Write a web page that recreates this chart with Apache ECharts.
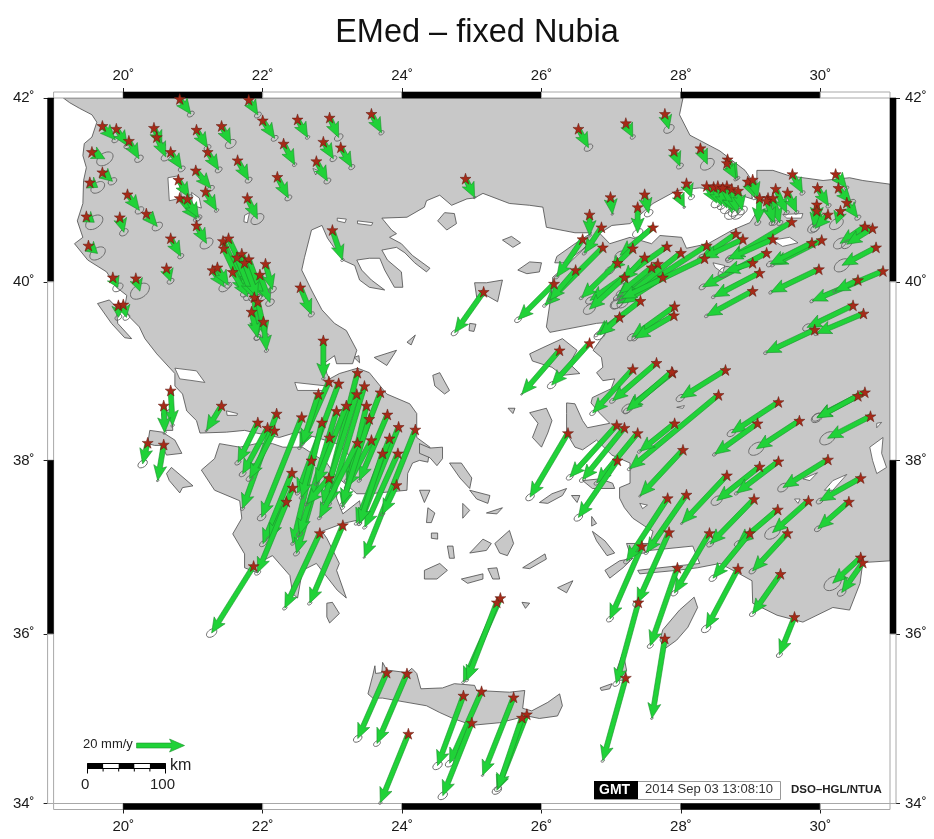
<!DOCTYPE html>
<html><head><meta charset="utf-8">
<style>html,body{margin:0;padding:0;background:#fff}#c{width:934px;height:839px}</style>
<script src="https://cdn.jsdelivr.net/npm/echarts@6/dist/echarts.min.js"></script>
</head><body><div id="c"></div>
<script>
// ---------- axes ----------
const lonTicks = [20,22,24,26,28,30];
const latTicks = [34,36,38,40,42];
const lonBands = [19,20,22,24,26,28,30,31];
const latBands = [42,40,38,36,34];

// ---------- coastlines: [lon, lat] ----------
const thraceCoast = [[19.14,42],[19.23,41.95],[19.37,41.89],[19.55,41.82],[19.62,41.74],[19.55,41.58],[19.44,41.51],[19.42,41.38],[19.47,41.25],[19.43,41.11],[19.42,40.86],[19.34,40.67],[19.42,40.49],[19.30,40.42],[19.49,40.24],[19.76,40.11],[19.90,39.94],[20.05,39.85],[20.02,39.72],[20.09,39.61],[20.23,39.50],[20.31,39.37],[20.48,39.20],[20.74,38.98],[20.74,38.84],[20.85,38.75],[20.91,38.56],[21.05,38.45],[21.10,38.31],[21.48,38.32],[21.74,38.34],[21.91,38.31],[22.24,38.26],[22.49,38.32],[22.77,38.26],[23.06,38.19],[23.20,38.09],[23.29,38.00],[23.10,37.79],[23.25,37.69],[23.35,37.62],[23.53,37.62],[24.07,37.66],[24.08,37.85],[24.15,37.97],[24.25,38.00],[24.37,37.98],[24.40,38.15],[24.21,38.26],[24.21,38.53],[24.11,38.64],[23.78,38.75],[23.53,38.99],[23.36,39.04],[23.10,38.98],[22.96,38.92],[22.92,38.98],[22.89,39.10],[23.03,39.18],[23.06,39.09],[23.29,39.09],[23.35,39.24],[23.20,39.46],[23.03,39.54],[22.85,39.69],[22.70,39.91],[22.56,40.13],[22.60,40.27],[22.70,40.57],[22.85,40.62],[22.93,40.48],[23.15,40.24],[23.32,40.18],[23.39,40.02],[23.53,39.94],[23.75,39.91],[23.56,40.02],[23.42,40.13],[23.35,40.24],[23.53,40.26],[23.68,40.26],[23.75,40.13],[23.89,39.94],[24.01,39.94],[23.99,40.11],[23.79,40.24],[23.71,40.35],[23.92,40.38],[24.04,40.32],[24.18,40.21],[24.35,40.11],[24.40,40.15],[24.15,40.29],[23.99,40.42],[23.82,40.49],[23.92,40.53],[23.85,40.57],[23.71,40.70],[24.07,40.71],[24.32,40.82],[24.35,40.89],[24.54,40.95],[24.71,40.84],[24.93,40.91],[25.04,40.92],[25.16,40.97],[25.54,40.86],[25.83,40.84],[26.02,40.82],[26.07,40.60],[26.48,40.54],[26.72,40.54],[26.48,40.42],[26.22,40.28],[26.19,40.21],[26.33,40.21],[26.58,40.35],[26.79,40.51],[27.01,40.62],[27.27,40.64],[27.60,40.86],[27.94,41.00],[28.27,41.03],[28.56,41.00],[28.77,40.97],[29.02,40.91],[29.02,41.11],[28.92,41.22],[28.56,41.43],[28.13,41.60],[27.98,41.82],[28.03,42]];
const anatoliaCoast = [[31,41.07],[30.61,41.11],[30.42,41.14],[30.04,41.11],[29.56,41.16],[29.32,41.22],[29.09,41.22],[29.09,40.95],[29.10,40.78],[28.99,40.65],[28.74,40.57],[28.39,40.42],[28.08,40.37],[28.01,40.49],[27.70,40.51],[27.58,40.42],[27.27,40.49],[26.98,40.42],[26.84,40.53],[26.59,40.35],[26.40,40.21],[26.16,40.05],[26.16,39.99],[26.12,39.76],[26.07,39.50],[26.12,39.44],[26.79,39.54],[26.94,39.55],[26.94,39.46],[26.74,39.24],[26.86,39.16],[26.88,39.05],[26.79,38.99],[26.88,38.90],[27.05,38.92],[27.00,38.81],[26.73,38.71],[26.71,38.65],[26.84,38.53],[26.98,38.42],[26.66,38.37],[26.59,38.45],[26.48,38.64],[26.36,38.65],[26.36,38.53],[26.36,38.31],[26.48,38.15],[26.59,38.12],[26.79,38.23],[27.01,38.06],[27.27,37.97],[27.27,37.74],[27.12,37.69],[27.12,37.57],[27.19,37.46],[27.31,37.34],[27.48,37.25],[27.60,37.19],[27.55,37.05],[27.22,37.05],[27.27,36.93],[27.48,36.94],[27.55,36.97],[28.17,37.02],[28.24,36.88],[28.27,36.82],[27.70,36.77],[27.38,36.74],[27.41,36.70],[27.94,36.74],[28.24,36.77],[28.56,36.82],[28.84,36.70],[29.02,36.62],[29.03,36.36],[29.38,36.22],[29.75,36.14],[30.18,36.31],[30.42,36.28],[30.57,36.59],[30.61,36.83],[31,36.85]];
const peloponneseCoast = [[23.07,37.80],[22.92,37.97],[22.57,38.15],[22.29,38.15],[22.14,38.19],[21.91,38.19],[21.67,38.15],[21.38,38.19],[21.31,38.02],[21.12,37.89],[21.31,37.66],[21.67,37.54],[21.70,37.34],[21.57,37.16],[21.74,36.93],[21.74,36.77],[21.93,36.71],[22.00,36.85],[22.14,36.91],[22.39,36.68],[22.43,36.47],[22.50,36.42],[22.57,36.74],[22.77,36.82],[23.07,36.51],[23.20,36.42],[23.06,36.74],[23.10,36.82],[22.92,37.11],[22.85,37.19],[23.15,37.28],[23.43,37.33],[23.39,37.54],[23.15,37.39],[23.06,37.57]];
const creteCoast = [[23.51,35.30],[23.58,35.52],[23.61,35.63],[23.62,35.54],[23.71,35.55],[23.72,35.67],[23.78,35.58],[24.07,35.55],[24.14,35.60],[24.21,35.54],[24.27,35.36],[24.58,35.37],[24.75,35.42],[25.04,35.40],[25.07,35.34],[25.54,35.32],[25.76,35.34],[25.73,35.13],[25.86,35.10],[26.09,35.20],[26.26,35.30],[26.30,35.16],[26.23,35.04],[25.97,35.01],[25.79,35.04],[25.40,34.96],[25.01,34.93],[24.73,35.01],[24.54,35.08],[24.35,35.16],[24.07,35.20],[23.72,35.25],[23.58,35.25]];
const ionianIslands = [
 [[19.63,39.76],[19.80,39.80],[19.90,39.72],[19.92,39.54],[20.12,39.37],[20.02,39.38],[19.83,39.54]],
 [[20.55,38.53],[20.69,38.59],[20.71,38.34],[20.59,38.34]],
 [[20.38,38.34],[20.56,38.32],[20.74,38.23],[20.84,38.08],[20.62,38.06],[20.55,38.17],[20.45,38.17],[20.35,38.19]],
 [[20.62,37.85],[20.69,37.92],[21.00,37.71],[20.85,37.69],[20.81,37.63],[20.66,37.77]],
 [[22.92,36.36],[23.00,36.37],[23.10,36.24],[22.96,36.13],[22.92,36.20]]
];
const northAegeanIslands = [
 [[24.51,40.67],[24.61,40.76],[24.75,40.75],[24.78,40.64],[24.64,40.57]],
 [[25.44,40.46],[25.57,40.50],[25.70,40.43],[25.59,40.38]],
 [[25.66,40.13],[25.83,40.22],[26.00,40.21],[25.97,40.11],[25.79,40.09]],
 [[25.04,39.99],[25.21,39.99],[25.44,40.02],[25.37,39.78],[25.21,39.85],[25.07,39.83]],
 [[24.97,39.54],[25.06,39.53],[25.03,39.45],[24.96,39.46]],
 [[24.44,38.96],[24.54,38.99],[24.68,38.79],[24.61,38.75],[24.47,38.84]],
 [[23.31,39.16],[23.38,39.18],[23.39,39.10]],
 [[23.60,39.16],[23.92,39.24],[23.78,39.07]],
 [[24.07,39.33],[24.19,39.41],[24.13,39.30]],
 [[25.83,39.20],[26.02,39.27],[26.30,39.37],[26.51,39.24],[26.40,39.09],[26.55,38.98],[26.30,38.96],[26.15,39.05],[25.87,39.12]],
 [[25.83,38.54],[26.07,38.59],[26.15,38.45],[26.09,38.31],[26.00,38.15],[25.87,38.26],[25.95,38.42]],
 [[25.52,38.59],[25.62,38.59],[25.59,38.53]]
];
const southAegeanIslands = [
 [[26.59,37.77],[26.84,37.79],[27.02,37.74],[27.05,37.68],[26.73,37.68]],
 [[25.97,37.52],[26.15,37.62],[26.36,37.68],[26.30,37.60],[26.09,37.51]],
 [[26.43,37.60],[26.55,37.60],[26.51,37.52]],
 [[24.25,38.19],[24.40,38.14],[24.58,38.15],[24.58,38.02],[24.50,37.94],[24.40,38.03],[24.25,38.08]],
 [[24.68,37.97],[24.85,37.97],[25.00,37.80],[24.97,37.68],[24.83,37.80]],
 [[24.97,37.66],[25.26,37.60],[25.23,37.51],[25.07,37.56]],
 [[24.25,37.66],[24.40,37.66],[24.32,37.52]],
 [[24.37,37.46],[24.47,37.40],[24.42,37.29],[24.35,37.29]],
 [[24.87,37.51],[24.97,37.43],[24.87,37.34]],
 [[25.21,37.40],[25.44,37.46],[25.36,37.39]],
 [[24.42,37.17],[24.51,37.17],[24.51,37.10],[24.42,37.11]],
 [[24.65,37.02],[24.73,37.02],[24.75,36.88],[24.68,36.88]],
 [[24.97,36.94],[25.16,37.10],[25.28,37.05],[25.21,36.97]],
 [[25.33,37.05],[25.54,37.20],[25.60,37.05],[25.51,36.91],[25.40,36.94]],
 [[25.73,36.77],[26.05,36.93],[26.07,36.87],[25.83,36.76]],
 [[25.23,36.76],[25.36,36.77],[25.40,36.64],[25.30,36.64]],
 [[24.85,36.64],[25.16,36.70],[25.16,36.64],[24.94,36.59]],
 [[24.32,36.74],[24.54,36.82],[24.65,36.74],[24.50,36.64],[24.32,36.64]],
 [[26.73,37.19],[26.91,37.08],[27.05,36.94],[26.94,36.91],[26.79,37.08]],
 [[26.72,37.36],[26.79,37.28],[26.72,37.25]],
 [[26.91,36.74],[27.12,36.85],[27.31,36.88],[27.17,36.77],[26.98,36.65]],
 [[26.23,36.54],[26.45,36.62],[26.36,36.48]],
 [[25.72,36.37],[25.83,36.36],[25.77,36.30]],
 [[27.74,36.05],[27.98,36.28],[28.19,36.43],[28.24,36.31],[28.10,36.08],[27.94,35.93],[27.77,35.83],[27.70,35.93]],
 [[27.08,35.58],[27.17,35.79],[27.22,35.58],[27.17,35.46],[27.08,35.46]],
 [[26.84,35.37],[27.01,35.42],[26.98,35.36],[26.86,35.34]]
];
const inlandWaters = [
 [[20.64,41.14],[20.78,41.16],[20.84,40.92],[20.66,40.89]],
 [[20.98,40.98],[21.09,40.92],[21.12,40.81],[20.99,40.84]],
 [[21.74,40.73],[21.81,40.76],[21.78,40.65],[21.73,40.66]],
 [[22.72,41.24],[22.79,41.22],[22.76,41.17]],
 [[20.74,39.04],[21.05,39.01],[21.17,38.88],[21.00,38.90],[20.81,38.92]],
 [[21.48,38.56],[21.64,38.53],[21.63,38.51],[21.49,38.51]],
 [[22.46,38.88],[22.92,38.84],[22.92,38.79],[22.50,38.79]],
 [[23.07,40.70],[23.20,40.69],[23.18,40.65],[23.07,40.67]],
 [[23.36,40.67],[23.58,40.65],[23.56,40.62],[23.36,40.64]],
 [[28.46,40.21],[28.63,40.18],[28.60,40.10],[28.49,40.16]],
 [[29.32,40.46],[29.56,40.49],[29.68,40.43],[29.46,40.39]],
 [[29.46,40.74],[29.75,40.75],[29.73,40.70],[29.52,40.70]],
 [[30.71,38.15],[30.90,38.26],[30.88,38.08],[30.95,37.92],[30.81,37.85],[30.75,38.00]],
 [[30.06,37.66],[30.18,37.77],[30.38,37.84],[30.18,37.66]],
 [[29.75,37.79],[29.96,37.86],[29.85,37.77]],
 [[29.63,37.56],[29.71,37.56],[29.68,37.51]],
 [[27.41,37.51],[27.52,37.49],[27.45,37.45]],
 [[27.94,38.60],[28.05,38.62],[28.03,38.59]],
 [[30.81,38.42],[30.88,38.43],[30.81,38.37]]
];

// ---------- GPS stations: [lon, lat, east mm/y, north mm/y, error mm/y] ----------
const balkanStations = [[20.81,41.99,4.6,-6.3,1.6],[21.80,41.98,3.8,-6.3,1.6],[22.00,41.76,5.0,-7.5,1.6],[22.50,41.77,4.2,-7.5,1],[22.96,41.79,3.8,-8.3,2],[19.70,41.70,5.4,-5.8,1.6],[19.90,41.67,4.6,-7.1,1.6],[20.08,41.54,4.2,-7.5,2],[20.44,41.68,3.3,-7.5,1.6],[20.48,41.58,3.8,-8.3,2.2],[20.68,41.42,4.6,-7.1,1.6],[21.05,41.66,4.6,-7.5,1.6],[21.21,41.42,4.6,-7.5,1.6],[21.41,41.70,3.8,-7.5,2.5],[21.64,41.33,4.6,-8.3,1.6],[22.30,41.51,4.6,-8.8,1],[22.87,41.53,4.2,-7.1,1.6],[22.77,41.32,4.6,-8.3,1.6],[22.21,41.15,4.6,-8.8,1.6],[21.78,40.92,4.2,-8.8,3],[19.55,41.42,5.4,-2.9,3.8],[19.70,41.20,4.2,-3.8,2],[19.52,41.09,3.3,-2.1,3.2],[19.47,40.72,3.3,-2.5,4],[19.50,40.40,3.8,-3.3,3.6],[20.06,40.96,5.0,-6.7,2],[19.95,40.71,1.7,-6.3,2],[20.33,40.75,4.6,-5.4,2.4],[20.68,40.48,4.2,-7.5,1.4],[20.62,40.15,1.7,-5.4,1.6],[20.79,41.12,4.6,-7.5,1.6],[20.81,40.92,7.1,-8.8,1.6],[20.92,40.91,4.6,-7.9,1.6],[21.04,41.22,6.3,-7.5,1.6],[21.18,40.99,4.6,-7.9,1],[21.05,40.62,4.2,-7.5,3],[19.85,40.05,2.1,-4.2,2.4],[20.18,40.04,1.7,-5.4,4.4],[19.93,39.74,0,-5,1.6],[20.00,39.75,1.3,-5.4,1.6]];
const pindusStations = [[21.28,40.13,5.0,-7.1,2.6],[21.35,40.16,4.6,-7.5,1.6],[22.54,39.94,4.6,-11.3,1.4],[21.43,40.45,9.2,-19.2,2],[21.51,40.48,9.6,-20.4,2],[21.44,40.37,8.8,-18.8,2],[21.70,40.31,6.7,-15.4,2.4],[21.80,40.25,5.8,-15.8,2],[21.57,40.11,6.3,-10.4,2],[21.96,40.08,4.2,-11.7,2],[22.04,40.20,2.9,-10.8,1.8],[21.88,39.83,1.3,-16.7,1.6],[21.93,39.78,3.3,-14.6,1.6],[21.84,39.67,2.5,-10.8,1.6],[22.01,39.56,1.3,-12.1,1],[21.63,40.27,6.7,-16.7,2],[21.74,40.21,5.4,-14.6,2],[23.56,41.83,4.2,-7.9,1.2],[23.12,41.47,4.6,-8.3,1.4],[23.00,40.57,4.2,-12.5,0.8],[24.91,41.13,3.8,-7.9,0.6]];
const hellenicStations = [[20.68,38.79,0.8,-14.6,0.8],[20.58,38.62,0.4,-11.3,0.8],[20.35,38.20,-2.1,-8.8,2.2],[20.58,38.18,-2.5,-15,0.6],[21.41,38.62,-6.3,-10.4,0.6],[21.93,38.43,-8.3,-16.7,1.4],[22.07,38.37,-10.4,-19.2,1.6],[22.20,38.53,-14.2,-39.6,1],[22.17,38.34,-10.4,-20,1.6],[22.56,38.49,-16.7,-41.7,2],[22.87,39.35,0,-15.8,0.8],[22.95,38.89,-12.1,-27.5,1],[22.80,38.75,-6.7,-20.8,1],[23.09,38.87,-17.1,-45.8,1],[23.36,38.99,-12.9,-50.4,1],[23.46,38.84,-14.6,-49.2,1],[23.69,38.77,-14.2,-36.7,1],[23.49,38.62,-10,-42.5,1],[23.79,38.52,-11.7,-27.5,1],[23.95,38.38,-16.3,-40.4,1],[24.19,38.35,-21.3,-53.3,0.5],[23.94,38.08,-13.8,-30.8,1],[23.82,38.25,-13.8,-35.4,1],[23.72,38.08,-9.6,-29.2,1],[23.92,37.72,-5.8,-12.1,1],[23.56,38.23,-10.4,-19.6,1],[23.53,38.47,-11.3,-35.4,1],[22.42,37.86,-12.1,-29.6,1.6],[22.34,37.53,-7.1,-15.4,1.4],[22.85,38.43,-12.1,-50.4,1],[22.96,38.26,-13.8,-48.3,1.4],[23.06,38.56,-15.4,-51.3,1.4],[23.20,38.62,-12.5,-32.5,1],[23.35,38.75,-14.2,-45.8,1],[23.36,38.20,-15.8,-31.3,1],[22.95,37.80,-9.2,-10.8,1],[22.70,38.00,-4.2,-15.4,1],[22.82,37.17,-14.6,-31.3,1],[23.15,37.26,-13.8,-32.5,1],[21.87,36.79,-17.5,-27.9,2.4],[22.43,37.69,-14.6,-35.4,1.4]];
const creteStations = [[25.41,36.42,-15.4,-35,0.8],[25.36,36.37,-12.5,-32.5,0.8],[23.78,35.55,-12.1,-27.5,2],[24.07,35.54,-12.5,-29.2,1.6],[24.09,34.83,-11.7,-28.8,0.8],[24.88,35.28,-10.8,-29.2,2.2],[25.14,35.33,-13.3,-30,2],[25.00,34.96,-12.1,-30.4,2.2],[25.60,35.26,-12.9,-32.5,0.6],[25.79,35.06,-12.5,-31.7,2.2],[25.72,35.02,-10,-29.6,1.6],[27.21,35.49,-9.6,-34.6,0.8],[27.39,36.37,-9.2,-33.8,1.6],[27.77,35.95,-5.4,-33.3,0.6],[27.95,36.77,-11.3,-32.5,1.4],[27.44,37.02,-13.3,-30.4,1.6]];
const aegeanStations = [[26.26,39.24,-15.8,-18.3,0.5],[26.69,39.32,-15.8,-17.5,2],[27.31,39.03,-16.7,-18.3,1.4],[27.65,39.10,-18.3,-15.8,1.4],[26.38,38.31,-15.8,-26.7,2],[27.08,38.40,-19.6,-21.7,1.6],[27.19,38.37,-17.5,-21.7,1.4],[27.38,38.31,-17.1,-20.8,1.2],[27.09,38.00,-16.3,-23.8,2]];
const marmaraStations = [[26.53,41.67,4.2,-7.9,2],[26.99,40.93,0.8,-7.1,0.6],[26.69,40.74,0,-8.8,0.8],[26.86,40.60,-7.1,-10.8,1],[26.59,40.47,-10.8,-15.8,1],[26.88,40.38,-24.2,-24.2,1],[26.49,40.13,-10.8,-12.5,1],[26.18,39.98,-15,-15,1.6],[25.17,39.89,-12.1,-17.1,1.6],[27.21,41.73,2.9,-5.8,1.2],[27.77,41.83,1.7,-6.3,2.4],[27.90,41.43,2.5,-6.3,1.6],[28.28,41.46,2.9,-6.7,3.2],[28.67,41.34,4.2,-7.9,1],[28.66,41.30,3.8,-6.7,1],[28.08,41.08,2.1,-5.8,1.4],[27.95,40.97,2.9,-5.8,0.6],[27.48,40.96,1.7,-7.9,2],[27.38,40.82,0,-10.8,2.4],[28.37,41.05,4.2,-7.1,2.6],[28.47,41.04,3.3,-7.9,2],[28.53,41.05,3.8,-9.2,3],[28.66,41.05,2.1,-11.3,3.4],[28.60,41.03,5,-9.6,3],[28.73,41.02,2.5,-10.4,3],[28.82,41.00,1.7,-8.3,2.4],[28.96,41.10,2.9,-6.7,1.2],[29.03,41.12,2.1,-7.5,1.2],[29.13,40.92,-0.8,-10.4,1.4],[29.25,40.92,1.7,-10.4,1.4],[29.32,40.92,2.9,-10.4,1.4],[29.23,40.89,3.3,-9.2,1.4],[29.36,41.02,4.6,-10,1.2],[29.53,40.98,3.8,-8.3,1],[29.60,41.18,4.2,-7.9,1.2],[29.96,41.03,4.6,-7.5,1.2],[30.22,41.18,4.6,-5.8,1],[30.26,41.03,5.4,-6.3,2],[30.38,40.87,4.6,-6.3,1.4],[30.29,40.78,-1.7,-5.4,3.2],[29.95,40.85,0,-7.5,2],[29.95,40.78,-1.3,-7.1,2.8],[30.11,40.74,-5.4,-5.8,2],[29.59,40.66,-25.8,-15.4,2],[30.64,40.61,-10.4,-7.1,3],[30.75,40.59,-10.8,-6.7,2.4],[30.80,40.38,-14.2,-7.5,3.6],[30.02,40.46,-20.4,-10.4,1],[29.88,40.43,-17.5,-8.8,1.6],[30.90,40.12,-29.6,-12.5,1],[30.54,40.02,-9.6,-4.6,1],[29.98,40.14,-20,-9.6,1],[29.23,40.32,-26.7,-14.2,1.6],[29.03,40.21,-11.7,-3.8,3],[29.13,40.10,-19.2,-10,1],[29.03,39.90,-19.2,-10.4,1],[28.79,40.53,-14.2,-10,2],[28.89,40.47,-16.7,-7.9,1],[28.37,40.40,-37.5,-24.2,3],[29.32,40.47,-18.8,-8.3,1],[30.47,39.74,-19.2,-9.2,2],[30.62,39.65,-19.6,-8.3,1.2],[29.92,39.47,-20.4,-9.6,1],[27.60,40.60,-13.8,-11.7,2.4],[27.80,40.39,-32.1,-22.5,2],[28.00,40.32,-26.7,-21.3,2.6],[27.48,40.27,-9.2,-9.6,2],[27.67,40.20,-17.1,-14.2,1.6],[27.58,40.16,-13.3,-10.8,1.6],[27.74,40.05,-16.7,-10.8,2.6],[27.31,40.37,-9.6,-9.2,2.2],[27.09,40.21,-15,-14.6,1],[27.19,40.05,-14.6,-13.3,2.8],[27.42,39.79,-18.3,-14.2,1],[27.12,39.61,-8.3,-7.5,2.6],[27.91,39.73,-17.9,-12.9,2],[27.90,39.63,-16.3,-9.6,1.4],[28.34,40.26,-34.6,-16.7,1.4]];
const anatoliaStations = [[27.88,38.99,-18.8,-15,2.6],[27.87,39.00,-18.8,-16.3,1.6],[28.64,39.02,-18.8,-11.7,2],[28.54,38.74,-37.1,-30.8,1],[27.91,38.42,-14.6,-11.7,1],[28.03,38.12,-17.9,-19.2,0.6],[29.40,38.66,-19.6,-12.9,2],[29.10,38.42,-17.9,-12.9,1],[29.70,38.45,-17.9,-11.7,3.6],[30.64,38.77,-20,-10.4,2.2],[30.54,38.73,-17.1,-9.2,2.6],[30.72,38.50,-17.9,-9.2,3.6],[30.11,38.01,-18.8,-11.7,2.4],[30.58,37.80,-17.1,-9.6,1.6],[30.41,37.53,-12.9,-11.3,1.6],[29.83,37.54,-15,-13.3,3.6],[29.39,37.44,-16.7,-14.2,1.6],[29.13,37.93,-17.9,-14.2,2.6],[29.40,37.99,-17.5,-13.3,1],[28.66,37.83,-18.8,-20,0.6],[29.05,37.56,-18.3,-18.8,1.6],[28.99,37.17,-15.4,-18.8,1.8],[29.53,37.17,-14.6,-15.8,1.6],[29.43,36.70,-11.7,-16.7,1.4],[28.82,36.76,-13.3,-25,2.2],[28.41,37.17,-14.6,-25,1.6],[28.08,37.61,-16.7,-24.2,1],[27.81,37.57,-17.1,-26.3,1.4],[27.83,37.18,-13.3,-29.6,2],[30.58,36.89,-11.7,-10.8,4],[30.61,36.83,-8.8,-12.5,2],[29.63,36.20,-6.3,-15.8,1.4]];
const legendArrow = [[20.19,34.69,20,0,0]];

// ---------- geometry ----------
const merc = lat => Math.log(Math.tan(Math.PI/4 + lat*Math.PI/360))*180/Math.PI;
const invMerc = v => (2*Math.atan(Math.exp(v*Math.PI/180)) - Math.PI/2)*180/Math.PI;
const PX_PER_MM = 2.4;               // paper scale of the velocity vectors (20 mm/y = 48 px)
const allStations = [...balkanStations,...pindusStations,...hellenicStations,...creteStations,...aegeanStations,...marmaraStations,...anatoliaStations];
const landPolys = [thraceCoast,anatoliaCoast,peloponneseCoast,creteCoast,...ionianIslands,...northAegeanIslands,...southAegeanIslands];

const FONT = '"Liberation Sans", Arial, sans-serif';
const polyData = list => list.map((p,i)=>[p[0][0],merc(p[0][1]),i]);
const polyRender = (list,fill,stroke) => (params,api) => ({
  type:'polygon',
  shape:{points:list[params.dataIndex].map(q=>api.coord([q[0],merc(q[1])]))},
  style:{fill,stroke,lineWidth:0.8}
});

function arrowRender(params,api){
  const s = api.coord([api.value(0),api.value(1)]);
  const ve = api.value(2), vn = api.value(3), err = api.value(4);
  const dx = ve*PX_PER_MM, dy = -vn*PX_PER_MM, L = Math.hypot(dx,dy)||1;
  const ux = dx/L, uy = dy/L, nx = -uy, ny = ux;
  const hl = Math.min(13,L*0.75), hw = 6.5, sw = 2.5;
  const t = [s[0]+dx,s[1]+dy];
  const b = [t[0]-ux*hl,t[1]-uy*hl];
  const pts = [
    [s[0]+nx*sw,s[1]+ny*sw],[b[0]+nx*sw,b[1]+ny*sw],[b[0]-ux*2+nx*hw,b[1]-uy*2+ny*hw],
    t,[b[0]-ux*2-nx*hw,b[1]-uy*2-ny*hw],[b[0]-nx*sw,b[1]-ny*sw],[s[0]-nx*sw,s[1]-ny*sw]
  ];
  const children = [];
  if(err>0) children.push({type:'ellipse',x:t[0],y:t[1],rotation:0.6,
    shape:{cx:0,cy:0,rx:err*PX_PER_MM,ry:err*PX_PER_MM*0.62},
    style:{fill:'transparent',stroke:'#6a6a6a',lineWidth:0.9}});
  children.push({type:'polygon',shape:{points:pts},style:{fill:'#20d238',stroke:'#1c8f2e',lineWidth:0.6}});
  return {type:'group',children};
}
const axisText = {fontFamily:FONT,fontSize:15,color:'#1a1a1a'};

// fancy frame from the lon/lat band lists
const frameRows = [];
lonBands.slice(0,-1).forEach((a,i)=>{frameRows.push([a,lonBands[i+1],i%2==1?1:0,0]);});
latBands.slice(0,-1).forEach((a,i)=>{frameRows.push([a,latBands[i+1],i%2==0?1:0,1]);});
[[19,42,-1,-1],[31,42,0,-1],[19,34,-1,0],[31,34,0,0]].forEach(c=>frameRows.push([c[0],c[1],0,2,c[2],c[3]]));
function frameRender(params,api){
  const a=api.value(0), b=api.value(1), black=api.value(2), kind=api.value(3), w=6;
  const st = black?{fill:'#000',stroke:'#000',lineWidth:0.6}:{fill:'#fff',stroke:'#a8a8a8',lineWidth:1};
  const top=merc(42), bot=merc(34), rects=[];
  if(kind===0){
    const p=api.coord([a,top]), q=api.coord([b,top]), r=api.coord([a,bot]);
    rects.push({x:p[0],y:p[1]-w,width:q[0]-p[0],height:w},{x:r[0],y:r[1],width:q[0]-p[0],height:w});
  }else if(kind===1){
    const p=api.coord([19,merc(a)]), q=api.coord([19,merc(b)]), r=api.coord([31,merc(a)]);
    rects.push({x:p[0]-w,y:p[1],width:w,height:q[1]-p[1]},{x:r[0],y:r[1],width:w,height:q[1]-p[1]});
  }else{
    const p=api.coord([a,merc(b)]);
    rects.push({x:p[0]+api.value(4)*w,y:p[1]+api.value(5)*w,width:w,height:w});
  }
  return {type:'group',children:rects.map(shape=>({type:'rect',shape,style:st}))};
}

const starPath = 'path://M50 0L62 36L100 36L69 59L81 95L50 73L19 95L31 59L0 36L38 36Z';
const latValues = latTicks.map(merc);
const fmtLat = v => Math.round(invMerc(v))+'˚';
const fmtLon = v => v+'˚';
const xCommon = {type:'value',min:19,max:31,splitLine:{show:false},axisLine:{show:false},
  axisTick:{customValues:lonTicks,length:10,lineStyle:{color:'#222',width:1}}};
const yCommon = {type:'value',min:merc(34),max:merc(42),splitLine:{show:false},axisLine:{show:false},
  axisTick:{customValues:latValues,length:10,lineStyle:{color:'#222',width:1}}};

const chart = echarts.init(document.getElementById('c'),null,{renderer:'canvas'});
chart.setOption({
  animation:false,backgroundColor:'#fff',
  title:{text:'EMed – fixed Nubia',left:472,top:12,textAlign:'center',
    textStyle:{fontFamily:FONT,fontSize:32.5,fontWeight:'normal',color:'#111'}},
  grid:{left:53.6,right:44,top:98,bottom:35.5,containLabel:false},
  xAxis:[
    {...xCommon,position:'bottom',axisLabel:{...axisText,customValues:lonTicks,formatter:fmtLon,margin:16}},
    {...xCommon,position:'top',axisLabel:{...axisText,customValues:lonTicks,formatter:fmtLon,margin:15}}
  ],
  yAxis:[
    {...yCommon,position:'left',axisLabel:{...axisText,customValues:latValues,formatter:fmtLat,margin:19}},
    {...yCommon,position:'right',axisLabel:{...axisText,customValues:latValues,formatter:fmtLat,margin:15}}
  ],
  series:[
    {type:'custom',z:1,silent:true,clip:true,data:polyData(landPolys),encode:{x:0,y:1},renderItem:polyRender(landPolys,'#c8c8c8','#4a4a4a')},
    {type:'custom',z:2,silent:true,clip:true,data:polyData(inlandWaters),encode:{x:0,y:1},renderItem:polyRender(inlandWaters,'#ffffff','#555555')},
    {type:'custom',z:3,silent:true,clip:false,data:frameRows,renderItem:frameRender},
    {type:'custom',z:5,silent:true,clip:false,
      data:allStations.map(r=>[r[0],merc(r[1]),r[2],r[3],r[4]]),encode:{x:0,y:1},renderItem:arrowRender},
    {type:'scatter',z:6,silent:true,symbol:starPath,symbolSize:11,
      data:allStations.map(r=>[r[0],merc(r[1])]),
      itemStyle:{color:'#a62a18',borderColor:'#5f1a10',borderWidth:0.5,opacity:1}},
    {type:'custom',z:7,silent:true,clip:false,
      data:legendArrow.map(r=>[r[0],merc(r[1]),r[2],r[3],r[4]]),encode:{x:0,y:1},renderItem:arrowRender}
  ],
  graphic:[
    {type:'text',left:83,top:738,style:{text:'20 mm/y',font:'13px '+FONT,fill:'#222'}},
    {type:'group',left:85,top:761,children:[
      {type:'rect',shape:{x:0,y:0,width:78,height:5},style:{fill:'#fff',stroke:'#000',lineWidth:1}},
      {type:'rect',shape:{x:0,y:0,width:15.6,height:5},style:{fill:'#000'}},
      {type:'rect',shape:{x:31.2,y:0,width:15.6,height:5},style:{fill:'#000'}},
      {type:'rect',shape:{x:62.4,y:0,width:15.6,height:5},style:{fill:'#000'}},
      {type:'line',shape:{x1:0,y1:0,x2:0,y2:10},style:{stroke:'#000',lineWidth:1}},
      {type:'line',shape:{x1:15.6,y1:5,x2:15.6,y2:8},style:{stroke:'#000',lineWidth:1}},
      {type:'line',shape:{x1:31.2,y1:5,x2:31.2,y2:8},style:{stroke:'#000',lineWidth:1}},
      {type:'line',shape:{x1:46.8,y1:5,x2:46.8,y2:8},style:{stroke:'#000',lineWidth:1}},
      {type:'line',shape:{x1:62.4,y1:5,x2:62.4,y2:8},style:{stroke:'#000',lineWidth:1}},
      {type:'line',shape:{x1:78,y1:0,x2:78,y2:10},style:{stroke:'#000',lineWidth:1}}
    ]},
    {type:'text',left:170,top:758,style:{text:'km',font:'16px '+FONT,fill:'#222'}},
    {type:'text',left:81,top:777,style:{text:'0',font:'15px '+FONT,fill:'#222'}},
    {type:'text',left:150,top:777,style:{text:'100',font:'15px '+FONT,fill:'#222'}},
    {type:'rect',left:594,top:781,shape:{width:186,height:18},style:{fill:'#fff',stroke:'#999',lineWidth:1}},
    {type:'rect',left:594,top:781,shape:{width:44,height:18},style:{fill:'#000'}},
    {type:'text',left:599,top:783,style:{text:'GMT',font:'bold 14px '+FONT,fill:'#fff'}},
    {type:'text',left:645,top:783,style:{text:'2014 Sep 03 13:08:10',font:'13px '+FONT,fill:'#333'}},
    {type:'text',left:791,top:784,style:{text:'DSO–HGL/NTUA',font:'bold 11.5px '+FONT,fill:'#222'}}
  ]
});
</script></body></html>
